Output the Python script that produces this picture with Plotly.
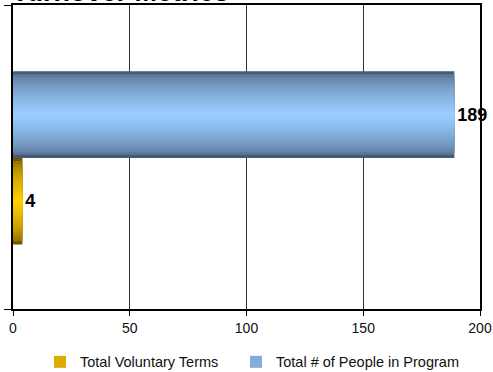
import plotly.graph_objects as go

categories = [""]
series_names = ["Total Voluntary Terms", "Total # of People in Program"]
series_values = [[4], [189]]
x_ticks = [0, 50, 100, 150, 200]
title_text = "Turnover Metrics"

FONT = "Arial, Liberation Sans, sans-serif"
# (dark edge colour, light centre colour)
palettes = [((112, 84, 0), (255, 204, 0)), ((70, 90, 116), (153, 204, 255))]
offsets = [-0.288, -0.003]
legend_ids = ["legend", "legend2"]
BAR_W = 0.285
N = 14


def mix(a, b, t):
    return "rgb(%d,%d,%d)" % tuple(round(a[i] + (b[i] - a[i]) * t) for i in range(3))


fig = go.Figure()
for s, (name, vals) in enumerate(zip(series_names, series_values)):
    dark, light = palettes[s]
    center = offsets[s] + BAR_W / 2
    for k in range(N):
        f = 1 - k / N
        t = (k / (N - 1)) ** 0.5
        w = BAR_W * f
        fig.add_trace(go.Bar(
            y=categories, x=vals, orientation="h",
            width=[w], offset=[center - w / 2],
            marker=dict(color=mix(dark, light, t), line=dict(width=0)),
            name=name, legendgroup=name, showlegend=(k == N // 2),
            legend=legend_ids[s],
            text=[str(v) for v in vals] if k == 0 else None,
            textposition="outside" if k == 0 else "none",
            textfont=dict(family=FONT, size=18, color="black", weight="bold"),
            cliponaxis=False, hoverinfo="x+name",
        ))

leg_common = dict(orientation="h", xanchor="left", y=-0.174, yanchor="middle",
                  font=dict(size=14.5, color="#111111"), itemclick=False,
                  bgcolor="rgba(0,0,0,0)")

fig.update_layout(
    width=493, height=372,
    margin=dict(l=13, r=13, t=5, b=63, autoexpand=False),
    barmode="overlay",
    plot_bgcolor="white", paper_bgcolor="white",
    font=dict(family=FONT, size=12, color="black"),
    showlegend=True,
    legend=dict(x=0.0578, **leg_common),
    legend2=dict(x=0.4775, **leg_common),
    annotations=[dict(text="<b>" + title_text + "</b>", x=-0.006, xref="paper", xanchor="left",
                      y=1, yref="paper", yanchor="bottom", yshift=-4, showarrow=False,
                      font=dict(family=FONT, size=27, color="black"))],
)
fig.update_xaxes(range=[0, 200], tickvals=x_ticks, showgrid=True, gridcolor="#333333",
                 gridwidth=1, showline=True, linecolor="black", linewidth=1.5, mirror=True,
                 ticks="outside", ticklen=5, tickcolor="black", zeroline=False,
                 tickfont=dict(size=14, color="#111111"))
fig.update_yaxes(showline=True, linecolor="black", linewidth=1.5, mirror=True,
                 ticks="outside", tickson="boundaries", ticklen=7, tickcolor="black",
                 showgrid=False, showticklabels=False, range=[-0.5, 0.5])

fig.write_html("out.html")
